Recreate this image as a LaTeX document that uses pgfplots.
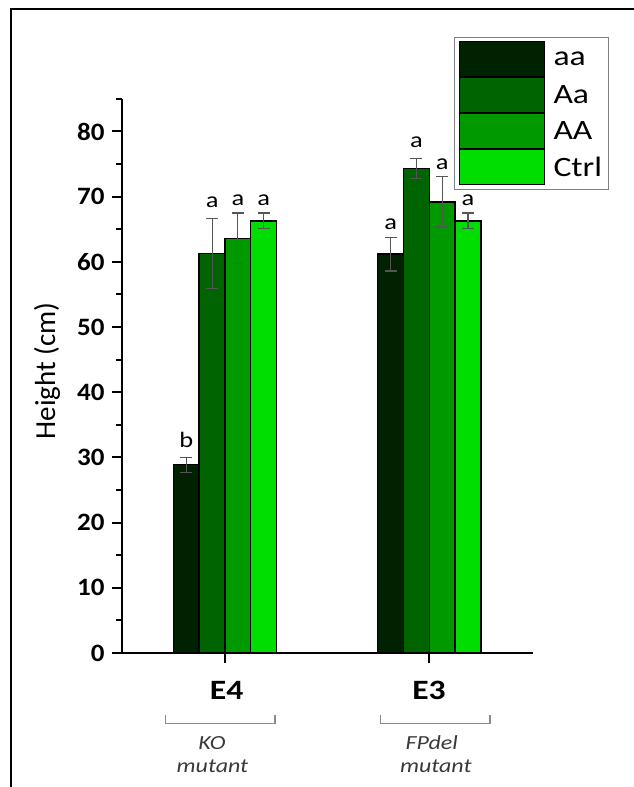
\documentclass[border=0pt]{standalone}
\usepackage{fontspec}
\setmainfont{Carlito}
\usepackage{graphicx}
\usepackage{pgfplots}
\pgfplotsset{compat=1.18}
\definecolor{caa}{HTML}{002200}
\definecolor{cAa}{HTML}{006400}
\definecolor{cAA}{HTML}{009A00}
\definecolor{cCtrl}{HTML}{00DD00}
\definecolor{errc}{HTML}{555555}
\definecolor{brc}{HTML}{8A8A8A}
\definecolor{txtg}{HTML}{3A3A3A}
\newcommand{\hs}[1]{\scalebox{1.2}[1]{#1}}
\begin{document}
\begin{tikzpicture}[x=1pt,y=1pt]
\path[use as bounding box] (0,0) rectangle (633,787);
\draw[line width=2.5pt] (11,-2) -- (11,778) -- (635,778);
\begin{axis}[
  at={(122pt,134pt)}, anchor=south west,
  scale only axis, width=411pt, height=554.1pt,
  xmin=-0.504, xmax=1.5076, ymin=0, ymax=85,
  axis lines=left,
  axis line style={-, line width=2.4pt},
  xtick={0,1}, xticklabels={},
  ytick={0,10,...,80},
  minor ytick={5,15,...,85},
  tick align=outside,
  major tick length=10pt, minor tick length=6pt,
  every tick/.style={black, line width=2pt},
  /pgf/number format/assume math mode=true,
  yticklabel={\scalebox{1.08}[1]{\pgfmathprintnumber{\tick}}},
  yticklabel style={font=\fontsize{25}{25}\selectfont\bfseries, anchor=east, xshift=-4pt},
  ylabel={Height (cm)},
  ylabel style={at={(axis description cs:-0.1825,0.509)}, anchor=center, font=\fontsize{29}{29}\selectfont},
  ybar=0pt, bar width=25.8pt,
  enlargelimits=false,
  clip=false,
  legend style={at={(axis description cs:0.8078,1.1122)}, anchor=north west,
    draw=gray, line width=1pt, inner xsep=4pt, inner ysep=4pt,
    row sep=0pt, font=\fontsize{28}{28}\selectfont,
    /tikz/every odd column/.append style={column sep=7pt}},
  legend cell align=left,
  legend image code/.code={\draw[#1, line width=1pt] (0pt,-17.5pt) rectangle (85pt,17.5pt);},
  error bars/y dir=both, error bars/y explicit,
  error bars/error bar style={errc, line width=1.1pt},
  error bars/error mark options={errc, rotate=90, mark size=6pt, line width=1.1pt},
]
\addplot[fill=caa, draw=black, line width=1.4pt, bar shift=-38.7pt] coordinates {(0,28.9) +- (0,1.15) (1,61.2) +- (0,2.6)};
\addplot[fill=cAa, draw=black, line width=1.4pt, bar shift=-12.9pt] coordinates {(0,61.3) +- (0,5.35) (1,74.3) +- (0,1.55)};
\addplot[fill=cAA, draw=black, line width=1.4pt, bar shift=12.9pt] coordinates {(0,63.6) +- (0,3.9) (1,69.2) +- (0,3.85)};
\addplot[fill=cCtrl, draw=black, line width=1.4pt, bar shift=38.7pt] coordinates {(0,66.3) +- (0,1.2) (1,66.3) +- (0,1.2)};
\legend{\hs{aa},\hs{Aa},\hs{AA},\hs{Ctrl}}
\begin{scope}[every node/.style={anchor=base, font=\fontsize{22}{22}\selectfont, inner sep=0pt}]
\node[xshift=-38.7pt] at (axis cs:0,31.6) {\hs{b}};
\node[xshift=-12.9pt] at (axis cs:0,68.4) {\hs{a}};
\node[xshift=12.9pt] at (axis cs:0,68.6) {\hs{a}};
\node[xshift=38.7pt] at (axis cs:0,68.6) {\hs{a}};
\node[xshift=-38.7pt] at (axis cs:1,64.9) {\hs{a}};
\node[xshift=-12.9pt] at (axis cs:1,77.5) {\hs{a}};
\node[xshift=12.9pt] at (axis cs:1,74.1) {\hs{a}};
\node[xshift=38.7pt] at (axis cs:1,68.7) {\hs{a}};
\end{scope}
\end{axis}
\node[font=\fontsize{28}{28}\selectfont\bfseries] at (226.7,96.3) {\hs{E4}};
\node[font=\fontsize{28}{28}\selectfont\bfseries] at (429,96.3) {\hs{E3}};
\draw[brc, line width=1.3pt] (165.7,72) -- (165.7,63.7) -- (275,63.7) -- (275,72);
\draw[brc, line width=1.3pt] (380.7,72) -- (380.7,63.7) -- (490,63.7) -- (490,72);
\node[txtg, font=\fontsize{20}{20}\selectfont\itshape] at (212,44) {\hs{KO}};
\node[txtg, font=\fontsize{20}{20}\selectfont\itshape] at (212.5,20.3) {\hs{mutant}};
\node[txtg, font=\fontsize{20}{20}\selectfont\itshape] at (431.7,44) {\hs{FPdel}};
\node[txtg, font=\fontsize{20}{20}\selectfont\itshape] at (435.8,20.3) {\hs{mutant}};
\end{tikzpicture}
\end{document}
